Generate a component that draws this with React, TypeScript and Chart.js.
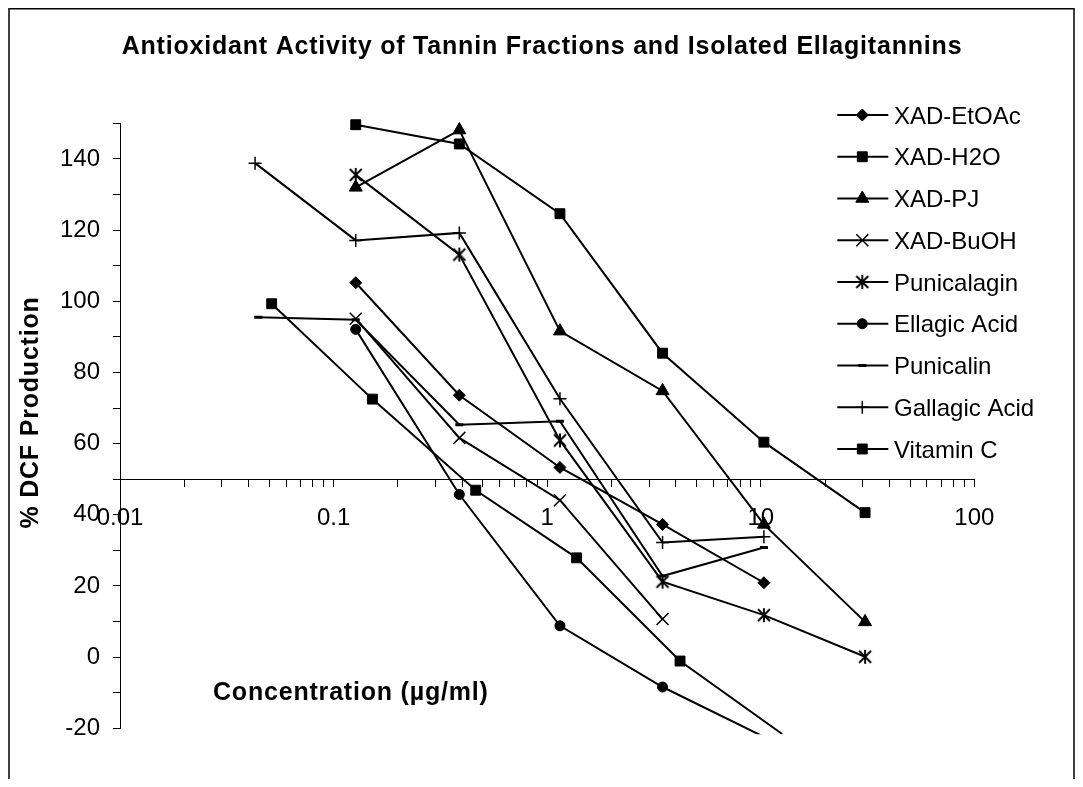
import React, { useEffect, useRef } from 'react';
import { Chart, registerables } from 'chart.js';
import { drawPoint } from 'chart.js/helpers';

Chart.register(...registerables);

// ---------- data ----------
const seriesNames = [
  'XAD-EtOAc',
  'XAD-H2O',
  'XAD-PJ',
  'XAD-BuOH',
  'Punicalagin',
  'Ellagic Acid',
  'Punicalin',
  'Gallagic Acid',
  'Vitamin C',
];

const concEtOAc = [0.127, 0.388, 1.148, 3.47, 10.35];
const dcfEtOAc = [105.2, 73.6, 53.3, 37.3, 20.9];

const concH2O = [0.127, 0.388, 1.148, 3.47, 10.35, 30.8];
const dcfH2O = [149.6, 144.2, 124.6, 85.4, 60.4, 40.6];

const concPJ = [0.127, 0.388, 1.148, 3.47, 10.35, 30.8];
const dcfPJ = [132.0, 148.1, 91.6, 74.8, 37.3, 9.9];

const concBuOH = [0.127, 0.388, 1.148, 3.47];
const dcfBuOH = [95.1, 61.6, 44.1, 10.7];

const concPunicalagin = [0.127, 0.388, 1.148, 3.47, 10.35, 30.8];
const dcfPunicalagin = [135.5, 113.1, 60.9, 21.2, 11.8, 0.1];

const concEllagic = [0.127, 0.388, 1.148, 3.47, 10.35];
const dcfEllagic = [92.1, 45.7, 8.8, -8.4, -22.4];

const concPunicalin = [0.0444, 0.127, 0.388, 1.148, 3.47, 10.35];
const dcfPunicalin = [95.5, 94.8, 65.3, 66.3, 22.8, 30.8];

const concGallagic = [0.0429, 0.127, 0.388, 1.148, 3.47, 10.35];
const dcfGallagic = [138.8, 117.1, 119.2, 72.6, 32.2, 33.8];

const concVitC = [0.0513, 0.152, 0.463, 1.374, 4.19, 12.6];
const dcfVitC = [99.3, 72.5, 46.9, 27.9, -1.1, -21.6];

const seriesConc = [concEtOAc, concH2O, concPJ, concBuOH, concPunicalagin, concEllagic, concPunicalin, concGallagic, concVitC];
const seriesDcf = [dcfEtOAc, dcfH2O, dcfPJ, dcfBuOH, dcfPunicalagin, dcfEllagic, dcfPunicalin, dcfGallagic, dcfVitC];

const xDecades = [0.01, 0.1, 1, 10, 100];
const xTickLabels = ['0.01', '0.1', '1', '10', '100'];
const yLabelValues = [-20, 0, 20, 40, 60, 80, 100, 120, 140];

const chartTitle = 'Antioxidant Activity of Tannin Fractions and Isolated Ellagitannins';
const yTitle = '% DCF Production';
const xTitle = 'Concentration (\u00b5g/ml)';

// ---------- styles ----------
const FONT = "'Liberation Sans', Arial, sans-serif";
const markerStyles: { style: string; r: number; bw: number }[] = [
  { style: 'rectRot', r: 6, bw: 1 },
  { style: 'rect', r: 7, bw: 1 },
  { style: 'triangle', r: 7.5, bw: 1 },
  { style: 'crossRot', r: 8.5, bw: 1.5 },
  { style: 'asterisk', r: 7, bw: 1.5 },
  { style: 'circle', r: 5, bw: 1 },
  { style: 'line', r: 4, bw: 3 },
  { style: 'cross', r: 6.5, bw: 1.5 },
  { style: 'rect', r: 7, bw: 1 },
];

const Y_MIN = -20;
const Y_MAX = 150;

function makeAsterisk(): HTMLCanvasElement {
  const c = document.createElement('canvas');
  c.width = 16;
  c.height = 16;
  const g = c.getContext('2d')!;
  g.strokeStyle = '#000';
  g.lineWidth = 1.9;
  g.lineCap = 'butt';
  g.beginPath();
  g.moveTo(2, 2);
  g.lineTo(14, 14);
  g.moveTo(14, 2);
  g.lineTo(2, 14);
  g.moveTo(8, 1);
  g.lineTo(8, 15);
  g.stroke();
  return c;
}

export default function App() {
  const ref = useRef<HTMLCanvasElement | null>(null);

  useEffect(() => {
    if (!ref.current) return;
    const asterisk = makeAsterisk();
    const styleOf = (i: number): any =>
      markerStyles[i].style === 'asterisk' ? asterisk : markerStyles[i].style;

    const xTickValues: number[] = [];
    for (let d = 0; d < xDecades.length - 1; d++) {
      for (let m = 1; m <= 9; m++) xTickValues.push(xDecades[d] * m);
    }
    xTickValues.push(xDecades[xDecades.length - 1]);

    const datasets = seriesNames.map((name, i) => ({
      label: name,
      data: seriesConc[i].map((x, j) => ({ x, y: seriesDcf[i][j] })),
      borderColor: '#000',
      backgroundColor: '#000',
      borderWidth: 2,
      tension: 0,
      fill: false,
      pointStyle: styleOf(i),
      pointRadius: (c: any) => (c.raw && c.raw.y < Y_MIN ? 0 : markerStyles[i].r),
      pointBorderWidth: markerStyles[i].bw,
      pointBackgroundColor: '#000',
      pointBorderColor: '#000',
      clip: { left: 10, top: 10, right: 10, bottom: 6 },
    }));

    const decor = {
      id: 'decor',
      afterDraw(chart: any) {
        const ctx: CanvasRenderingContext2D = chart.ctx;
        const W = chart.width;
        const H = chart.height;
        ctx.save();
        // frame
        ctx.strokeStyle = '#000';
        ctx.lineWidth = 1.5;
        ctx.beginPath();
        ctx.moveTo(1, H);
        ctx.lineTo(1, 0.75);
        ctx.lineTo(W - 1, 0.75);
        ctx.lineTo(W - 1, H);
        ctx.stroke();

        ctx.fillStyle = '#000';
        // title
        (ctx as any).letterSpacing = '0.8px';
        ctx.font = `bold 25px ${FONT}`;
        ctx.textAlign = 'center';
        ctx.textBaseline = 'alphabetic';
        ctx.fillText(chartTitle, 534, 46);

        // x axis title
        ctx.textAlign = 'left';
        ctx.fillText(xTitle, 205, 692);

        // y axis title
        ctx.save();
        ctx.translate(30, 404.5);
        ctx.rotate(-Math.PI / 2);
        ctx.textAlign = 'center';
        ctx.fillText(yTitle, 0, 0);
        ctx.restore();

        // legend
        (ctx as any).letterSpacing = '0px';
        ctx.font = `24px ${FONT}`;
        ctx.textAlign = 'left';
        const top = 107;
        const step = 41.75;
        chart.data.datasets.forEach((ds: any, i: number) => {
          const y = top + i * step;
          ctx.strokeStyle = '#000';
          ctx.lineWidth = 2;
          ctx.beginPath();
          ctx.moveTo(829.3, y);
          ctx.lineTo(880.3, y);
          ctx.stroke();
          ctx.lineWidth = markerStyles[i].bw;
          ctx.fillStyle = '#000';
          drawPoint(ctx, { pointStyle: styleOf(i), radius: markerStyles[i].r, rotation: 0, borderWidth: markerStyles[i].bw } as any, 854.3, y);
          ctx.fillStyle = '#000';
          ctx.fillText(ds.label, 886, y + 8.6);
        });
        ctx.restore();
      },
    };

    const chart = new Chart(ref.current, {
      type: 'line',
      data: { datasets: datasets as any },
      plugins: [decor],
      options: {
        animation: false,
        responsive: false,
        events: [],
        layout: { padding: { left: 0, top: 115.3, right: 100.7, bottom: 50.7 } },
        plugins: {
          legend: { display: false },
          title: { display: false },
          tooltip: { enabled: false },
        },
        scales: {
          x: {
            type: 'logarithmic',
            min: 0.01,
            max: 100,
            position: { y: 50 } as any,
            afterBuildTicks: (scale: any) => {
              scale.ticks = xTickValues.map((v) => ({ value: v }));
            },
            ticks: {
              autoSkip: false,
              maxRotation: 0,
              minRotation: 0,
              padding: 18,
              color: '#000',
              font: { family: FONT, size: 24 },
              callback: (_v: any, i: number) => (i % 9 === 0 ? xTickLabels[i / 9] : ''),
            },
            grid: { drawOnChartArea: false, drawTicks: true, tickLength: 7, color: '#000', lineWidth: 1 },
            border: { display: true, color: '#000', width: 1 },
          },
          y: {
            type: 'linear',
            position: 'left',
            min: Y_MIN,
            max: Y_MAX,
            afterFit: (scale: any) => {
              scale.width = 112;
            },
            ticks: {
              stepSize: 10,
              autoSkip: false,
              padding: 13,
              color: '#000',
              font: { family: FONT, size: 24 },
              callback: (v: any) => (yLabelValues.includes(Number(v)) ? String(v) : ''),
            },
            grid: { drawOnChartArea: false, drawTicks: true, tickLength: 7, color: '#000', lineWidth: 1 },
            border: { display: true, color: '#000', width: 1 },
          },
        },
      } as any,
    });
    return () => chart.destroy();
  }, []);

  return (
    <div style={{ width: 1067, height: 771 }}>
      <canvas ref={ref} width={1067} height={771} style={{ display: 'block' }} />
    </div>
  );
}
